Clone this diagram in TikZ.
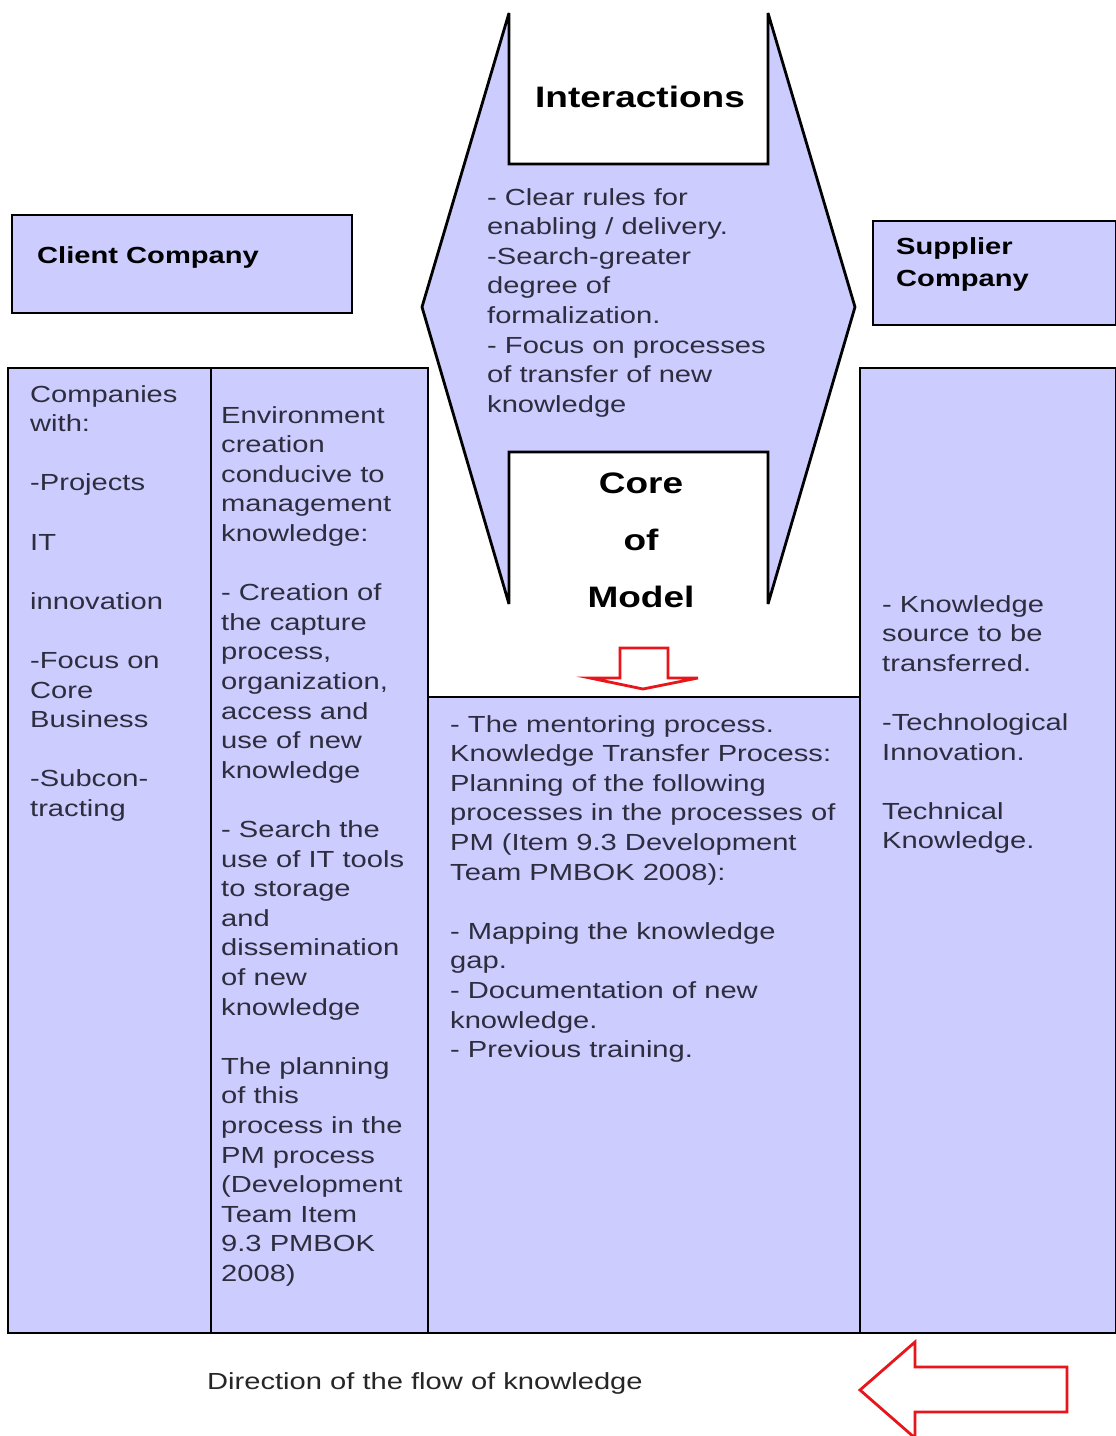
\documentclass[tikz,border=0pt]{standalone}
\usepackage{fontspec}
\setmainfont{Liberation Sans}[FakeStretch=1.25]
\definecolor{lav}{RGB}{204,204,255}
\definecolor{txt}{RGB}{45,45,62}
\definecolor{arrred}{RGB}{232,22,26}
\newcommand\leftlines[1]{\begin{tabular}[t]{@{}l@{}}#1\end{tabular}}
\newcommand\midlines[1]{\begin{tabular}[t]{@{}c@{}}#1\end{tabular}}
\begin{document}
\begin{tikzpicture}[x=1pt,y=-1pt,
  box/.style={draw=black, line width=2.8pt, fill=lav, line join=miter, miter limit=4},
  body/.style={anchor=base west, inner sep=0pt, text=txt,
    font=\fontsize{23.3}{29.6}\selectfont},
  boldlabel/.style={anchor=base west, inner sep=0pt, text=black,
    font=\bfseries\fontsize{23.3}{32}\selectfont},
  bigtitle/.style={anchor=base, inner sep=0pt, text=black,
    font=\bfseries\fontsize{29.6}{57}\selectfont},
  redarrow/.style={draw=arrred, line width=2.8pt, fill=white, line join=miter}]
\useasboundingbox (0,0) rectangle (1116,1436);
\fill[white] (0,0) rectangle (1116,1436);

% company boxes
\path[box] (12,215) rectangle (352,313);
\path[box] (873,221) rectangle (1116,325);

% columns
\path[box] (8,368) rectangle (211,1333);
\path[box] (211,368) rectangle (428,1333);
\path[box] (428,697) rectangle (860,1333);
\path[box] (860,368) rectangle (1116,1333);

% central interaction shape
\path[box] (509,13) -- (509,164) -- (768,164) -- (768,13) -- (855,307)
  -- (768,604) -- (768,452) -- (509,452) -- (509,604) -- (422,307) -- cycle;

% red arrows
\path[redarrow] (620,648) -- (668,648) -- (668,678) -- (698,678) -- (643,689)
  -- (590,678) -- (620,678) -- cycle;
\path[redarrow] (1067,1367) -- (915,1367) -- (915,1342) -- (860,1390)
  -- (915,1438) -- (915,1412) -- (1067,1412) -- cycle;

% texts
\node[boldlabel] (client) at (37,263) {Client Company};
\node[boldlabel] (supplier) at (896,254) {\leftlines{Supplier\\Company}};
\node[bigtitle] (inter) at (640,107) {Interactions};
\node[bigtitle] (core) at (641,493) {\midlines{Core\\of\\Model}};

\node[body] (intertext) at (487,205) {\leftlines{- Clear rules for\\enabling / delivery.\\-Search-greater\\degree of\\formalization.\\- Focus on processes\\of transfer of new\\knowledge}};

\node[body] (colA) at (30,402) {\leftlines{Companies\\with:\\[29.6pt]-Projects\\[29.6pt]IT\\[29.6pt]innovation\\[29.6pt]-Focus on\\Core\\Business\\[29.6pt]-Subcon-\\tracting}};

\node[body] (colB) at (221,423) {\leftlines{Environment\\creation\\conducive to\\management\\knowledge:\\[29.6pt]- Creation of\\the capture\\process,\\organization,\\access and\\use of new\\knowledge\\[29.6pt]- Search the\\use of IT tools\\to storage\\and\\dissemination\\of new\\knowledge\\[29.6pt]The planning\\of this\\process in the\\PM process\\(Development\\Team Item\\9.3 PMBOK\\2008)}};

\node[body] (colC) at (450,732) {\leftlines{- The mentoring process.\\Knowledge Transfer Process:\\Planning of the following\\processes in the processes of\\PM (Item 9.3 Development\\Team PMBOK 2008):\\[29.6pt]- Mapping the knowledge\\gap.\\- Documentation of new\\knowledge.\\- Previous training.}};

\node[body] (colD) at (882,612) {\leftlines{- Knowledge\\source to be\\transferred.\\[29.6pt]-Technological\\Innovation.\\[29.6pt]Technical\\Knowledge.}};

\node[body, text=black!85] (flow) at (207,1389) {Direction of the flow of knowledge};
\end{tikzpicture}
\end{document}
